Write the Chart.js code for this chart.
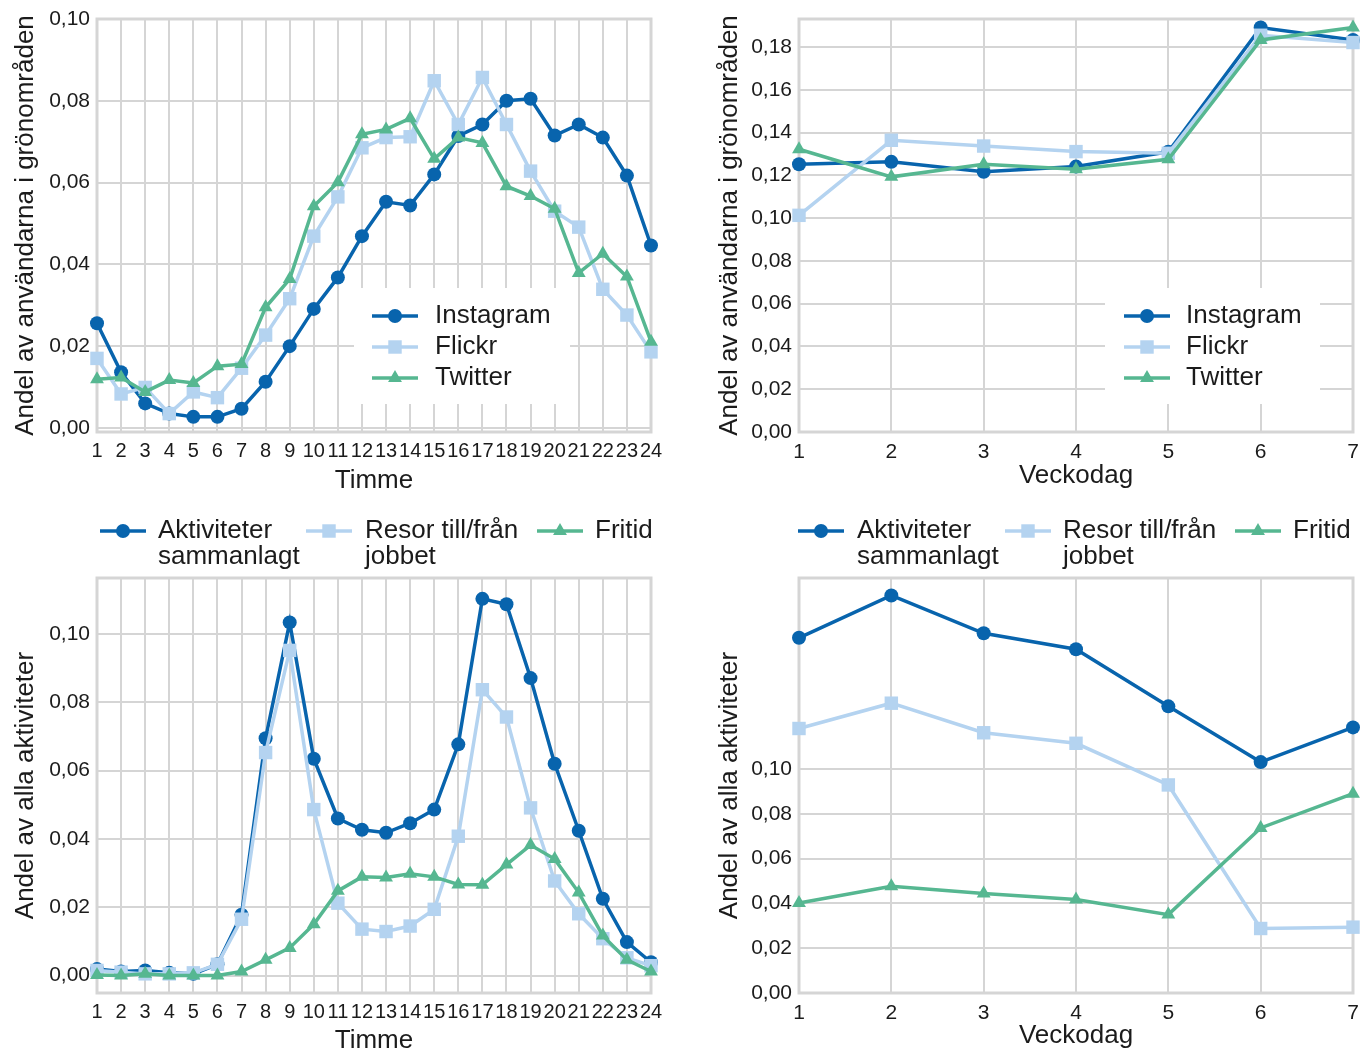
<!DOCTYPE html>
<html lang="sv">
<head>
<meta charset="utf-8">
<title>Andel av användarna i grönområden och andel av alla aktiviteter</title>
<script src="https://cdn.jsdelivr.net/npm/chart.js@4.4.1/dist/chart.umd.min.js"></script>
<style>
  html, body { margin: 0; padding: 0; background: #ffffff; }
  body { width: 1361px; height: 1052px; position: relative; overflow: hidden; }
  canvas { position: absolute; display: block; }
</style>
</head>
<body>
<canvas id="hourUsers" width="680" height="500" style="left:0;top:0"></canvas>
<canvas id="dayUsers" width="681" height="500" style="left:680px;top:0"></canvas>
<canvas id="hourActivities" width="680" height="552" style="left:0;top:500px"></canvas>
<canvas id="dayActivities" width="681" height="552" style="left:680px;top:500px"></canvas>
<script>
// ---- categories and tick labels ----
const hours = ['1','2','3','4','5','6','7','8','9','10','11','12','13','14','15','16','17','18','19','20','21','22','23','24'];
const weekdays = ['1','2','3','4','5','6','7'];
const ticksHourUsers = [0, 0.02, 0.04, 0.06, 0.08, 0.10];
const ticksDayUsers = [0, 0.02, 0.04, 0.06, 0.08, 0.10, 0.12, 0.14, 0.16, 0.18];
const ticksActivities = [0, 0.02, 0.04, 0.06, 0.08, 0.10];

// ---- share of users in green areas, per hour ----
const instagramHour = [0.0256,0.0136,0.0060,0.0035,0.0027,0.0027,0.0047,0.0113,0.0200,0.0291,0.0368,0.0469,0.0553,0.0544,0.0620,0.0714,0.0742,0.0800,0.0805,0.0715,0.0742,0.0710,0.0617,0.0446];
const flickrHour    = [0.0170,0.0083,0.0099,0.0035,0.0088,0.0074,0.0146,0.0227,0.0316,0.0469,0.0565,0.0685,0.0710,0.0712,0.0849,0.0742,0.0857,0.0742,0.0628,0.0530,0.0491,0.0339,0.0276,0.0186];
const twitterHour   = [0.0119,0.0123,0.0088,0.0117,0.0110,0.0151,0.0156,0.0295,0.0364,0.0542,0.0601,0.0718,0.0730,0.0757,0.0658,0.0710,0.0697,0.0591,0.0567,0.0536,0.0379,0.0426,0.0370,0.0211];

// ---- share of users in green areas, per weekday ----
const instagramDay = [0.1252,0.1263,0.1217,0.1241,0.1310,0.1891,0.1833];
const flickrDay    = [0.1013,0.1364,0.1337,0.1311,0.1303,0.1855,0.1821];
const twitterDay   = [0.1322,0.1193,0.1252,0.1228,0.1275,0.1833,0.1891];

// ---- share of all activities, per hour ----
const totalHour   = [0.0019,0.0012,0.0015,0.0008,0.0005,0.0033,0.0178,0.0695,0.1034,0.0635,0.0460,0.0427,0.0418,0.0446,0.0486,0.0677,0.1103,0.1087,0.0871,0.0620,0.0424,0.0225,0.0098,0.0039];
const commuteHour = [0.0015,0.0010,0.0005,0.0005,0.0008,0.0033,0.0165,0.0653,0.0952,0.0486,0.0212,0.0136,0.0129,0.0145,0.0194,0.0408,0.0837,0.0757,0.0491,0.0277,0.0181,0.0108,0.0052,0.0029];
const leisureHour = [0.0002,0.0000,0.0005,0.0000,0.0000,0.0000,0.0012,0.0046,0.0081,0.0150,0.0248,0.0289,0.0287,0.0298,0.0289,0.0267,0.0266,0.0325,0.0382,0.0341,0.0243,0.0117,0.0046,0.0012];

// ---- share of all activities, per weekday ----
const totalDay   = [0.1586,0.1775,0.1606,0.1535,0.1280,0.1031,0.1186];
const commuteDay = [0.1181,0.1294,0.1162,0.1115,0.0929,0.0288,0.0294];
const leisureDay = [0.0402,0.0477,0.0444,0.0417,0.0350,0.0737,0.0890];

// ---- styling ----
const DARK = '#0864ad';
const LIGHT = '#b4d3f0';
const GREEN = '#56b791';
const GRID = '#d5d5d5';
const INK = '#1b1b1b';
const FONT = '"Liberation Sans", Arial, "DejaVu Sans", sans-serif';

const circle = { point: 'circle', radius: 7 };
const square = { point: 'rect', radius: 9.5 };
const triangle = { point: 'triangle', radius: 8 };

const fmt = v => v.toFixed(2).replace('.', ',');

// Grey frame around the plotting area
const framePlugin = {
  id: 'frame',
  beforeDatasetsDraw(chart) {
    const { ctx, chartArea: a } = chart;
    ctx.save();
    ctx.strokeStyle = GRID;
    ctx.lineWidth = 3;
    ctx.strokeRect(a.left, a.top, a.right - a.left, a.bottom - a.top);
    ctx.restore();
  }
};

function marker(ctx, style, r, x, y) {
  ctx.beginPath();
  if (style === 'circle') {
    ctx.arc(x, y, r, 0, Math.PI * 2);
  } else if (style === 'rect') {
    const s = Math.SQRT1_2 * r;
    ctx.rect(x - s, y - s, 2 * s, 2 * s);
  } else {
    ctx.moveTo(x, y - r);
    ctx.lineTo(x + r * Math.sin(Math.PI * 2 / 3), y - r * Math.cos(Math.PI * 2 / 3));
    ctx.lineTo(x + r * Math.sin(Math.PI * 4 / 3), y - r * Math.cos(Math.PI * 4 / 3));
    ctx.closePath();
  }
  ctx.fill();
}

// Legend drawn at fixed spots, optionally on a white patch over the grid
const insetLegendPlugin = {
  id: 'insetLegend',
  beforeDatasetsDraw(chart, args, opts) {
    if (!opts || !opts.items) return;
    const ctx = chart.ctx;
    ctx.save();
    if (opts.box) {
      ctx.fillStyle = '#ffffff';
      ctx.fillRect(opts.box.x, opts.box.y, opts.box.w, opts.box.h);
    }
    chart.data.datasets.forEach((ds, i) => {
      const it = opts.items[i];
      ctx.strokeStyle = ds.borderColor;
      ctx.lineWidth = ds.borderWidth;
      ctx.beginPath();
      ctx.moveTo(it.x, it.y);
      ctx.lineTo(it.x + opts.sample, it.y);
      ctx.stroke();
      ctx.fillStyle = ds.backgroundColor;
      marker(ctx, ds.pointStyle, ds.pointRadius, it.x + opts.sample / 2, it.y);
      ctx.fillStyle = INK;
      ctx.font = opts.fontSize + 'px ' + FONT;
      ctx.textBaseline = 'middle';
      ctx.textAlign = 'left';
      ds.legendLines.forEach((line, k) => {
        ctx.fillText(line, it.tx, it.y + k * opts.lineGap);
      });
    });
    ctx.restore();
  }
};

function build(id, spec) {
  const canvas = document.getElementById(id);
  const W = canvas.width, H = canvas.height, a = spec.area;
  return new Chart(canvas, {
    type: 'line',
    data: {
      labels: spec.labels,
      datasets: spec.series.map((s, i) => ({
        label: s.lines.join(' '),
        legendLines: s.lines,
        data: s.data,
        borderColor: s.color,
        backgroundColor: s.color,
        borderWidth: 3.5,
        pointStyle: s.mark.point,
        pointRadius: s.mark.radius,
        pointHoverRadius: s.mark.radius,
        pointBorderWidth: 0,
        tension: 0,
        clip: false,
        order: spec.series.length - i
      }))
    },
    options: {
      responsive: false,
      animation: false,
      events: [],
      layout: {
        autoPadding: false,
        padding: { left: spec.padLeft, right: W - a.right, top: a.top, bottom: spec.padBottom }
      },
      plugins: {
        legend: { display: false },
        tooltip: { enabled: false },
        insetLegend: spec.legend
      },
      scales: {
        x: {
          type: 'category',
          offset: false,
          grid: { color: GRID, lineWidth: 2, drawTicks: false, offset: false },
          border: { display: false },
          ticks: { color: INK, font: { family: FONT, size: spec.xTickSize }, padding: spec.xTickPad, autoSkip: false, maxRotation: 0 },
          title: { display: true, text: spec.xTitle, color: INK, font: { family: FONT, size: 26, lineHeight: 0.76 }, padding: { top: 0, bottom: 0 } },
          afterFit(scale) {
            scale.height = H - a.bottom - spec.padBottom;
            scale.paddingLeft = 0;
            scale.paddingRight = 0;
          }
        },
        y: {
          type: 'linear',
          min: spec.yMin,
          max: spec.yMax,
          grid: { color: GRID, lineWidth: 2, drawTicks: false },
          border: { display: false },
          ticks: { color: INK, font: { family: FONT, size: 21 }, padding: 7, callback: v => fmt(v) },
          afterBuildTicks(scale) { scale.ticks = spec.yTicks.map(v => ({ value: v })); },
          title: { display: true, text: spec.yTitle, color: INK, font: { family: FONT, size: 26, lineHeight: 1 }, padding: { top: spec.yTitlePad, bottom: 0 } },
          afterFit(scale) {
            scale.width = a.left - spec.padLeft;
            scale.paddingTop = 0;
            scale.paddingBottom = 0;
          }
        }
      }
    },
    plugins: [framePlugin, insetLegendPlugin]
  });
}

const socialSeries = (ig, fl, tw) => [
  { lines: ['Instagram'], data: ig, color: DARK, mark: circle },
  { lines: ['Flickr'], data: fl, color: LIGHT, mark: square },
  { lines: ['Twitter'], data: tw, color: GREEN, mark: triangle }
];
const activitySeries = (tot, com, lei) => [
  { lines: ['Aktiviteter', 'sammanlagt'], data: tot, color: DARK, mark: circle },
  { lines: ['Resor till/från', 'jobbet'], data: com, color: LIGHT, mark: square },
  { lines: ['Fritid'], data: lei, color: GREEN, mark: triangle }
];

build('hourUsers', {
  labels: hours,
  series: socialSeries(instagramHour, flickrHour, twitterHour),
  area: { left: 97, right: 651, top: 19, bottom: 432 },
  yMin: -0.001, yMax: 0.10, yTicks: ticksHourUsers,
  padLeft: 4, padBottom: 9, xTickPad: 7, xTickSize: 20, yTitlePad: 9,
  xTitle: 'Timme', yTitle: 'Andel av användarna i grönområden',
  legend: {
    box: { x: 354, y: 288, w: 216, h: 116 },
    sample: 46, fontSize: 26, lineGap: 26,
    items: [ { x: 372, y: 316, tx: 435 }, { x: 372, y: 347, tx: 435 }, { x: 372, y: 378, tx: 435 } ]
  }
});

build('dayUsers', {
  labels: weekdays,
  series: socialSeries(instagramDay, flickrDay, twitterDay),
  area: { left: 119, right: 673, top: 19, bottom: 432 },
  yMin: 0, yMax: 0.1931, yTicks: ticksDayUsers,
  padLeft: 28, padBottom: 14, xTickPad: 8, xTickSize: 21, yTitlePad: 9,
  xTitle: 'Veckodag', yTitle: 'Andel av användarna i grönområden',
  legend: {
    box: { x: 425, y: 288, w: 215, h: 116 },
    sample: 46, fontSize: 26, lineGap: 26,
    items: [ { x: 444, y: 316, tx: 506 }, { x: 444, y: 347, tx: 506 }, { x: 444, y: 378, tx: 506 } ]
  }
});

build('hourActivities', {
  labels: hours,
  series: activitySeries(totalHour, commuteHour, leisureHour),
  area: { left: 97, right: 651, top: 78, bottom: 493 },
  yMin: -0.0051, yMax: 0.1164, yTicks: ticksActivities,
  padLeft: 4, padBottom: 1, xTickPad: 7, xTickSize: 20, yTitlePad: 9,
  xTitle: 'Timme', yTitle: 'Andel av alla aktiviteter',
  legend: {
    sample: 46, fontSize: 26, lineGap: 26,
    items: [ { x: 100, y: 31, tx: 158 }, { x: 306, y: 31, tx: 365 }, { x: 537, y: 31, tx: 595 } ]
  }
});

build('dayActivities', {
  labels: weekdays,
  series: activitySeries(totalDay, commuteDay, leisureDay),
  area: { left: 119, right: 673, top: 78, bottom: 493 },
  yMin: 0, yMax: 0.1853, yTicks: ticksActivities,
  padLeft: 28, padBottom: 6, xTickPad: 8, xTickSize: 21, yTitlePad: 9,
  xTitle: 'Veckodag', yTitle: 'Andel av alla aktiviteter',
  legend: {
    sample: 46, fontSize: 26, lineGap: 26,
    items: [ { x: 118, y: 31, tx: 177 }, { x: 325, y: 31, tx: 383 }, { x: 555, y: 31, tx: 613 } ]
  }
});
</script>
</body>
</html>
